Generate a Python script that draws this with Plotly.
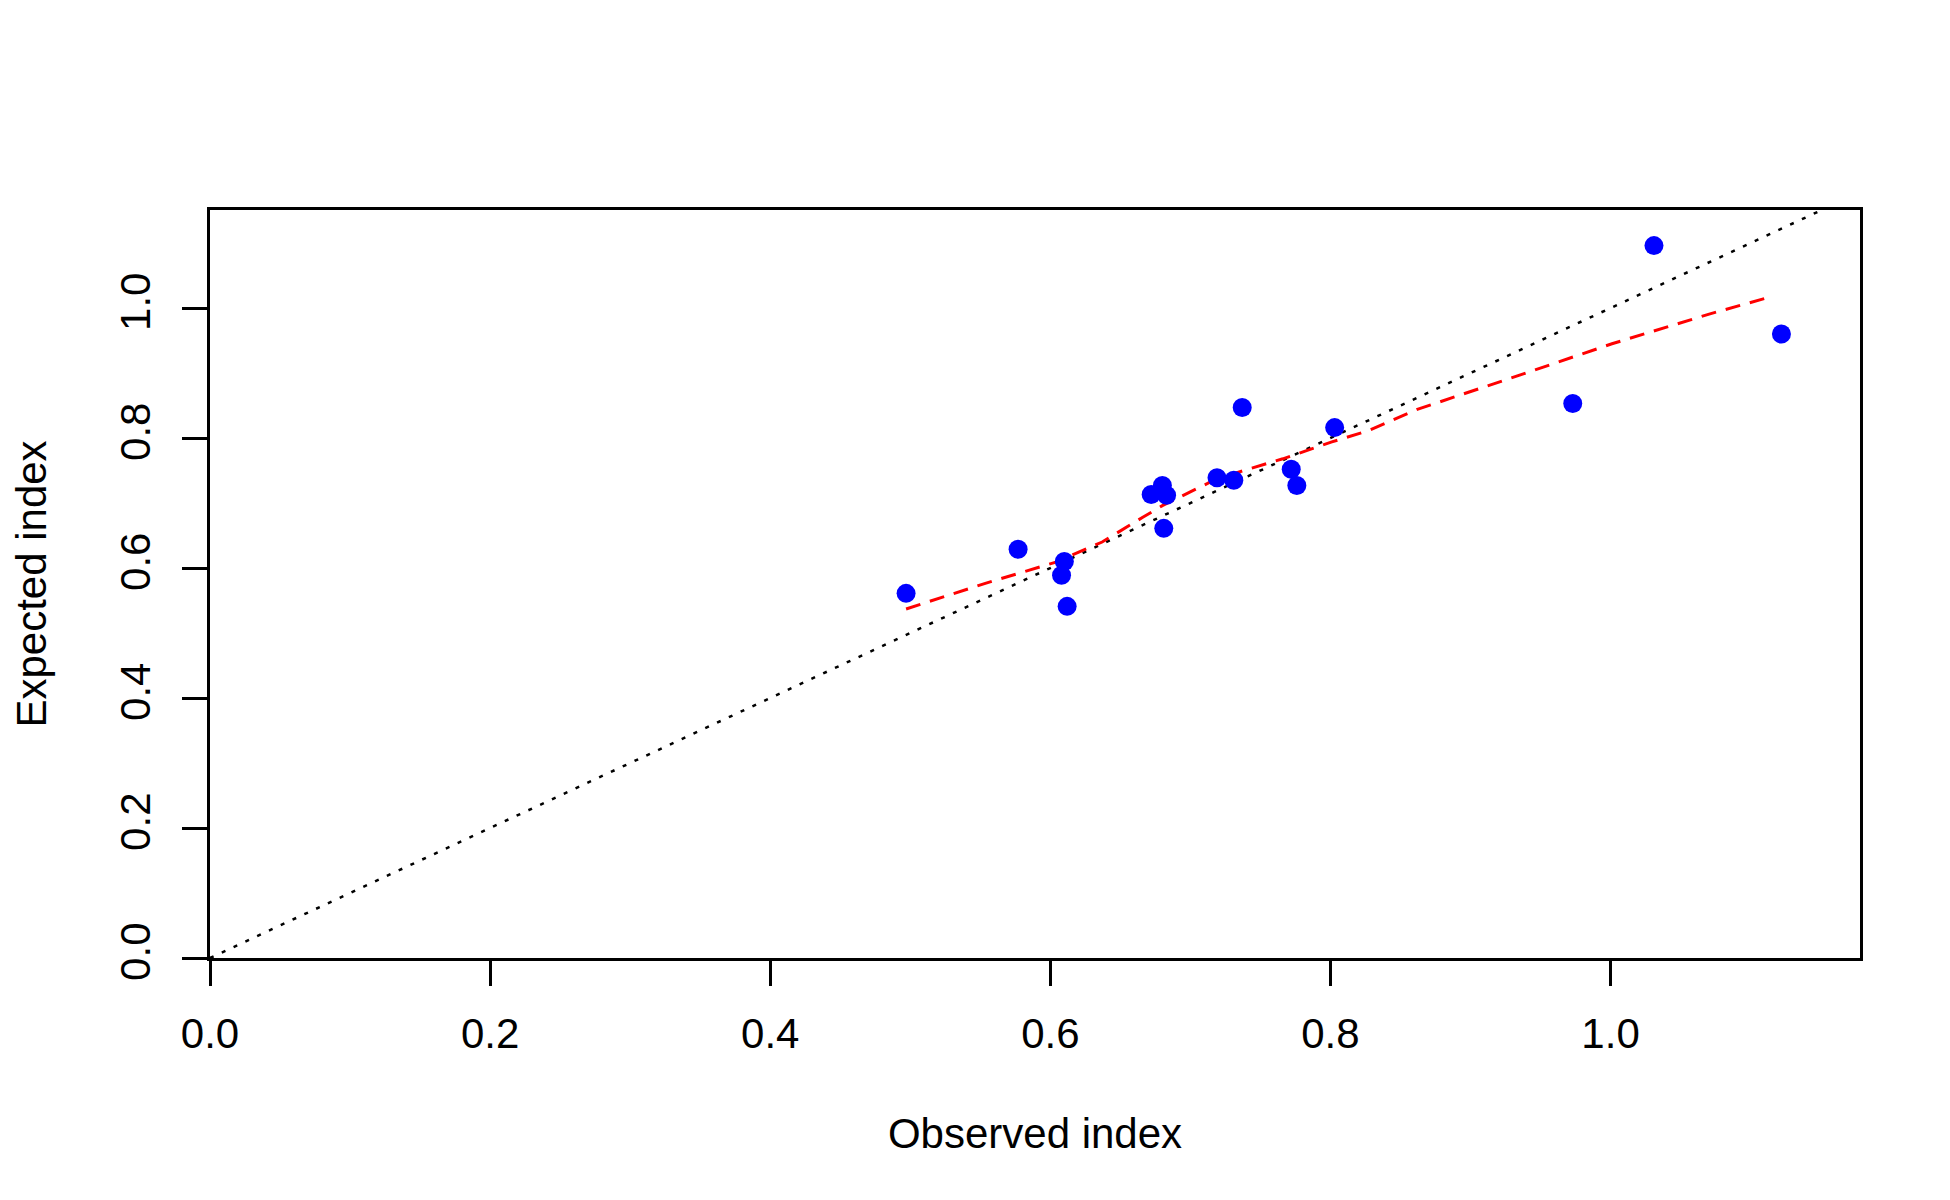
import plotly.graph_objects as go

# observed vs expected index, one point per site
observed = [0.497, 0.577, 0.610, 0.608, 0.612, 0.672, 0.680, 0.683, 0.681,
            0.719, 0.731, 0.737, 0.772, 0.776, 0.803, 0.973, 1.031, 1.122]
expected = [0.561, 0.629, 0.610, 0.589, 0.541, 0.713, 0.727, 0.712, 0.661,
            0.739, 0.735, 0.847, 0.752, 0.727, 0.816, 0.853, 1.096, 0.960]

# smoothed fit (red dashed)
fit_x = [0.497, 0.553, 0.604, 0.637, 0.666, 0.680, 0.714, 0.732, 0.766,
         0.801, 0.828, 0.862, 0.934, 1.001, 1.071, 1.114]
fit_y = [0.537, 0.576, 0.609, 0.640, 0.678, 0.696, 0.732, 0.746, 0.768,
         0.794, 0.812, 0.844, 0.896, 0.945, 0.991, 1.017]

tick_vals = [0.0, 0.2, 0.4, 0.6, 0.8, 1.0]

x_max = 1.05 * max(observed)
y_max = 1.05 * max(expected)

font_family = "Arial, Liberation Sans, sans-serif"

fig = go.Figure()

# 1:1 reference line
fig.add_trace(go.Scatter(x=[0, x_max], y=[0, x_max], mode="lines",
                         line=dict(color="black", width=2.5, dash="4px,9px"),
                         hoverinfo="skip"))

fig.add_trace(go.Scatter(x=fit_x, y=fit_y, mode="lines",
                         line=dict(color="red", width=3, dash="15px,10px")))

fig.add_trace(go.Scatter(x=observed, y=expected, mode="markers",
                         marker=dict(color="blue", size=19, line=dict(width=0))))

axis_style = dict(
    showline=True, linecolor="black", linewidth=3, mirror=True,
    ticks="outside", ticklen=25, tickwidth=3, tickcolor="black",
    tickvals=tick_vals, tickformat=".1f",
    showgrid=False, zeroline=False,
    tickfont=dict(size=42, color="black", family=font_family),
)

fig.update_xaxes(range=[0, x_max], title=dict(text="Observed index", standoff=63,
                 font=dict(size=42, color="black", family=font_family)),
                 ticklabelstandoff=12, **axis_style)
fig.update_yaxes(range=[0, y_max], tickangle=-90, title=dict(text="Expected index", standoff=56,
                 font=dict(size=42, color="black", family=font_family)),
                 ticklabelstandoff=15, **axis_style)

fig.update_layout(
    width=1950, height=1200,
    margin=dict(l=202, r=98, t=202, b=250, pad=0),
    paper_bgcolor="white", plot_bgcolor="white",
    showlegend=False,
    font=dict(family=font_family, color="black"),
)

fig.write_html("out.html")
